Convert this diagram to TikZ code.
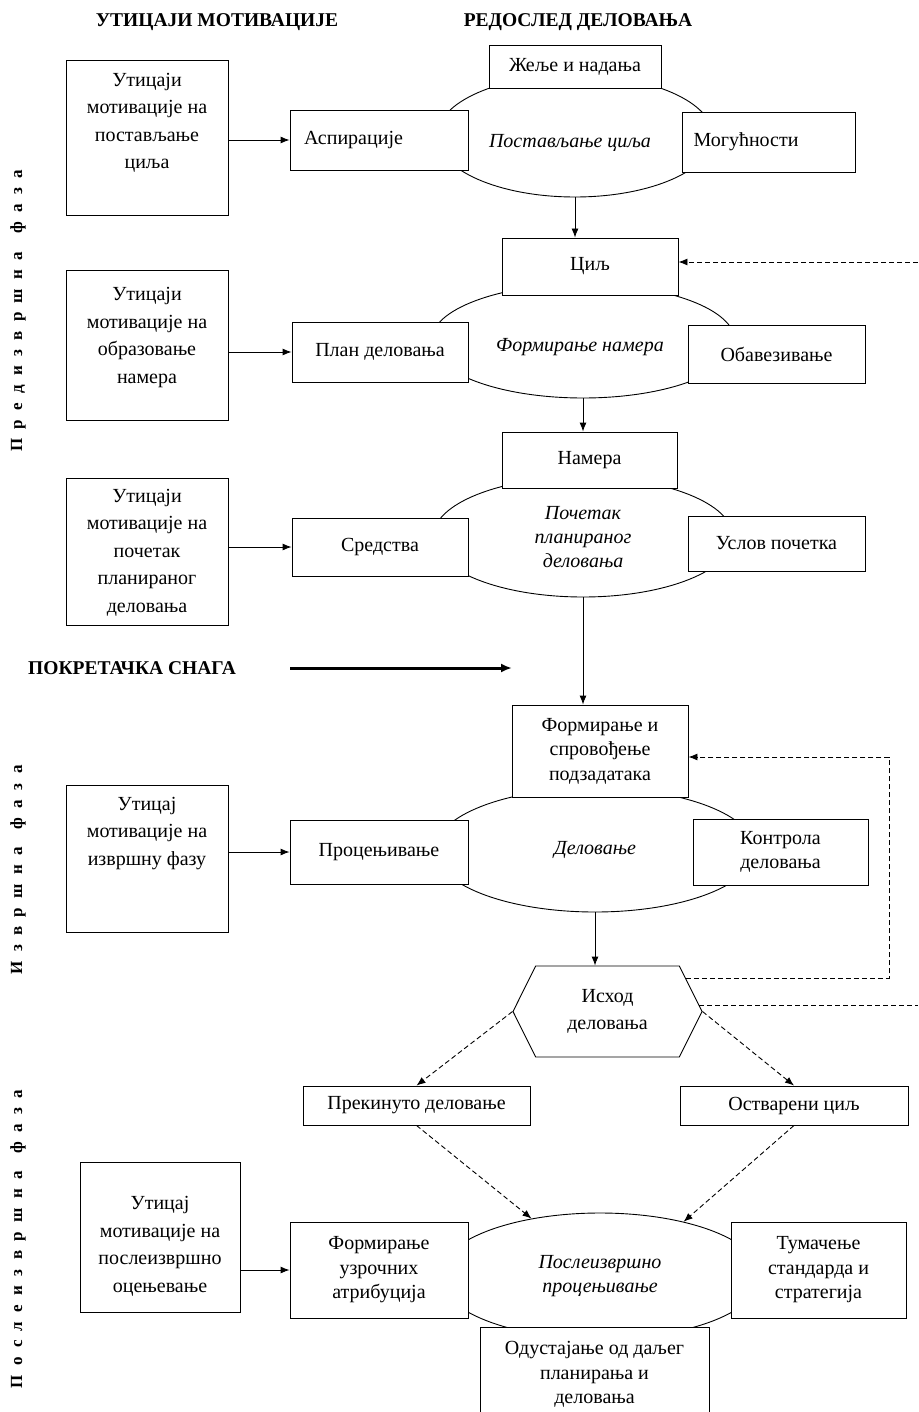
\documentclass[tikz,border=0pt]{standalone}
\usepackage{fontspec}
\setmainfont{Liberation Serif}
\usetikzlibrary{arrows.meta,shapes.geometric,shapes.symbols,calc}

\begin{document}
\begin{tikzpicture}[x=1pt,y=-1pt,line width=0.9pt,>={Latex[length=9pt,width=7pt]},
  box/.style={draw,fill=white,align=center,inner sep=2pt,font=\fontsize{20}{24.5}\selectfont},
  infl/.style={draw,minimum width=162},
  infltxt/.style={align=center,font=\fontsize{20}{27.5}\selectfont},
  ell/.style={draw,ellipse,inner sep=0pt,align=center,font=\fontsize{20}{24}\selectfont\itshape},
  elltxt/.style={font=\fontsize{20}{24}\selectfont\itshape},
  head/.style={font=\fontsize{19.5}{19.5}\selectfont\bfseries},
  phase/.style={rotate=90,font=\fontsize{17}{17}\selectfont\bfseries\addfontfeature{LetterSpace=55}},
  fb/.style={dash pattern=on 5pt off 3pt,->}]
\useasboundingbox (0,0) rectangle (918,1412);

% headings
\node[head] (hmot) at (217,22) {УТИЦАЈИ МОТИВАЦИЈЕ};
\node[head] (hred) at (578,22) {РЕДОСЛЕД ДЕЛОВАЊА};

% phases
\node[phase] (ph1) at (18,311) {Предизвршна\hspace{18pt}фаза};
\node[phase] (ph2) at (18,870) {Извршна\hspace{18pt}фаза};
\node[phase] (ph3) at (18,1239) {Послеизвршна\hspace{18pt}фаза};

% goal setting
\node[ell,minimum width=276,minimum height=122] (ell1) at (575,136) {};
\node[elltxt] (ell1t) at (570,143) {Постављање циља};
\node[box,minimum width=172,minimum height=43] (zelje) at (575,66.5) {Жеље и надања};
\node[box,minimum width=178,minimum height=60,text width=150,align=left] (asp) at (379,140) {Аспирације};
\node[box,minimum width=173,minimum height=60,text width=150,align=left] (mog) at (768.5,142) {Могућности};
\node[infl,minimum height=155] (inf1) at (147,137.5) {};
\node[infltxt] (inf1t) at (147,123) {Утицаји\\мотивације на\\постављање\\циља};
\draw[->] (inf1.east |- asp.west) -- (asp.west);

% intention forming
\node[ell,minimum width=304,minimum height=114] (ell2) at (583,341) {};
\node[elltxt] (ell2t) at (580,347) {Формирање намера};
\node[box,minimum width=176,minimum height=57] (cilj) at (590,266.5) {Циљ};
\node[box,minimum width=176,minimum height=60] (plan) at (380,352) {План деловања};
\node[box,minimum width=177,minimum height=58] (obav) at (776.5,354) {Обавезивање};
\node[infl,minimum height=150] (inf2) at (147,345) {};
\node[infltxt] (inf2t) at (147,337.5) {Утицаји\\мотивације на\\образовање\\намера};
\draw[->] (ell1.south) -- (ell1.south |- cilj.north);
\draw[->] (inf2.east |- plan.west) -- (plan.west);
\coordinate (rightA) at (918,262);
\draw[fb] (rightA) -- (cilj.east |- rightA);

% start of action
\node[ell,minimum width=300,minimum height=120] (ell3) at (583,537) {Почетак\\планираног\\деловања};
\node[box,minimum width=175,minimum height=56] (namera) at (589.5,460) {Намера};
\node[box,minimum width=176,minimum height=58] (srd) at (380,547) {Средства};
\node[box,minimum width=177,minimum height=55] (uslov) at (776.5,543.5) {Услов почетка};
\node[infl,minimum height=147] (inf3) at (147,551.5) {};
\node[infltxt] (inf3t) at (147,552.5) {Утицаји\\мотивације на\\почетак\\планираног\\деловања};
\draw[->] (ell2.south) -- (ell2.south |- namera.north);
\draw[->] (inf3.east |- srd.west) -- (srd.west);

% driving force
\node[head] (pokr) at (132,668) {ПОКРЕТАЧКА СНАГА};
\coordinate (forceA) at (290,668);
\coordinate (forceB) at (512,668);
\draw[line width=3pt,-{Latex[length=11pt,width=9pt]}] (forceA) -- (forceB);

% action
\node[ell,minimum width=320,minimum height=124] (ell4) at (595,850) {Деловање};
\node[box,minimum width=176,minimum height=92] (form) at (600,751) {Формирање и\\спровођење\\подзадатака};
\node[box,minimum width=178,minimum height=64] (proc) at (379,852) {Процењивање};
\node[box,minimum width=175,minimum height=66] (kontr) at (780.5,852) {Контрола\\деловања};
\node[infl,minimum height=147] (inf4) at (147,858.5) {};
\node[infltxt] (inf4t) at (147,833.5) {Утицај\\мотивације на\\извршну фазу};
\draw[->] (ell3.south) -- (ell3.south |- form.north);
\draw[->] (inf4.east |- proc.west) -- (proc.west);

% outcome
\node[draw,signal,signal to=east and west,signal pointer angle=127,minimum width=189,minimum height=91,
  inner sep=0pt,align=center,font=\fontsize{20}{27}\selectfont] (ishod) at (607.5,1011.5) {Исход\\деловања};
\draw[->] (ell4.south) -- (ell4.south |- ishod.north);
\coordinate (loopR) at (889,757);
\draw[fb] (ishod.23) -| (loopR) -- (loopR -| form.east);
\coordinate (rightB) at (918,1005);
\draw[dash pattern=on 5pt off 3pt] (ishod.4) -- (ishod.4 -| rightB);

\node[box,minimum width=227,minimum height=39] (prek) at (416.5,1105.5) {Прекинуто деловање};
\node[box,minimum width=228,minimum height=39] (ost) at (794,1105.5) {Остварени циљ};
\draw[fb] (ishod.west) -- (prek.north);
\draw[fb] (ishod.east) -- (ost.north);

% post-action evaluation
\node[ell,minimum width=322,minimum height=126] (ell5) at (600,1276) {Послеизвршно\\процењивање};
\draw[fb] (prek.south) -- (ell5.140);
\draw[fb] (ost.south) -- (ell5.33);
\node[box,minimum width=178,minimum height=96] (attr) at (379,1270) {Формирање\\узрочних\\атрибуција};
\node[box,minimum width=175,minimum height=96] (tum) at (818.5,1270) {Тумачење\\стандарда и\\стратегија};
\node[box,minimum width=229,minimum height=95] (odust) at (594.5,1374.5) {Одустајање од даљег\\планирања и\\деловања};
\node[infl,minimum width=160,minimum height=150] (inf5) at (160,1237) {};
\node[infltxt] (inf5t) at (160,1246.5) {Утицај\\мотивације на\\послеизвршно\\оцењевање};
\draw[->] (inf5.east |- attr.west) -- (attr.west);
\end{tikzpicture}
\end{document}
